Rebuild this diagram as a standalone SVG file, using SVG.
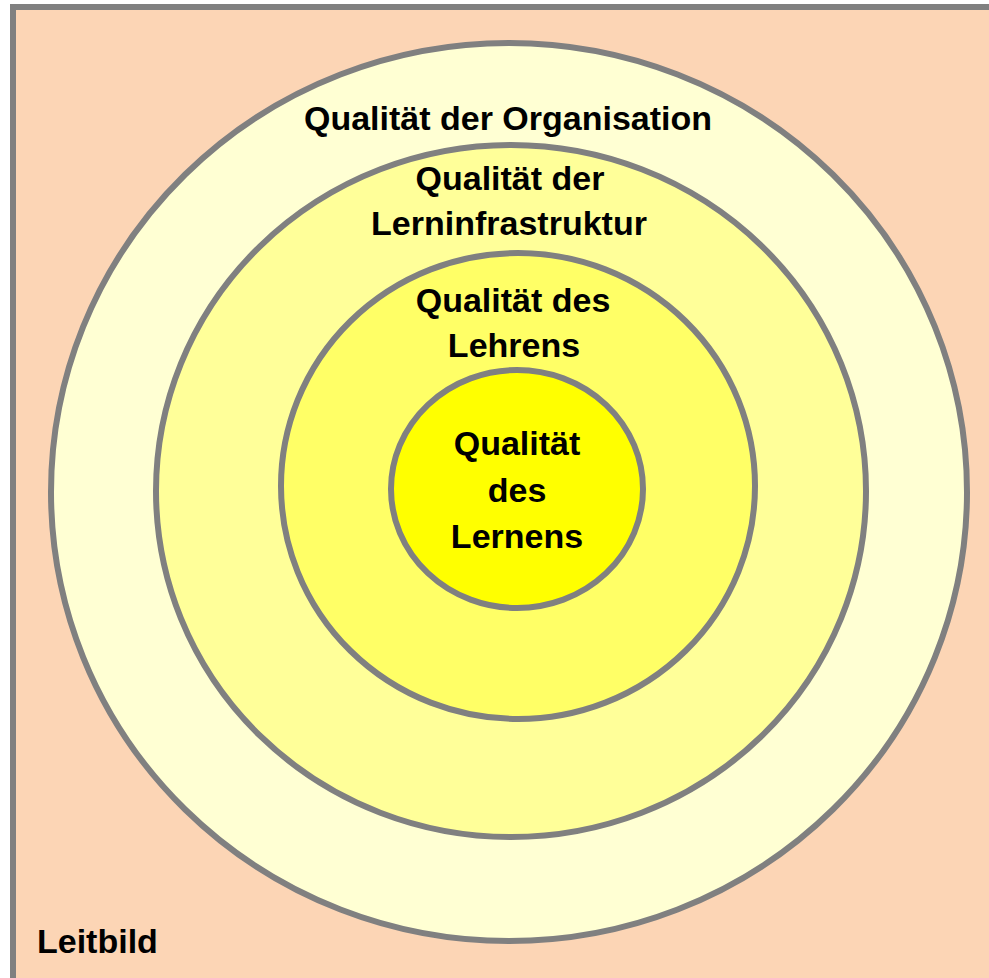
<svg xmlns="http://www.w3.org/2000/svg" width="989" height="978" viewBox="0 0 989 978">
  <style>
    .ring { stroke: #808080; stroke-width: 6; }
    .lbl { font-family: "Liberation Sans", Arial, sans-serif; font-weight: bold; font-size: 34px; fill: #000000; text-anchor: middle; }
    .lbl-left { text-anchor: start; }
  </style>
  <rect x="0" y="0" width="989" height="978" fill="#FFFFFF"/>
  <g id="leitbild">
    <rect x="13" y="7" width="1000" height="1000" fill="#FCD5B5" stroke="#808080" stroke-width="6"/>
    <text class="lbl lbl-left" x="37" y="953">Leitbild</text>
  </g>
  <g id="organisation">
    <ellipse class="ring" cx="509" cy="492" rx="458" ry="449" fill="#FFFFD3"/>
    <text class="lbl" x="508" y="130">Qualität der Organisation</text>
  </g>
  <g id="lerninfrastruktur">
    <ellipse class="ring" cx="511" cy="491" rx="355" ry="346" fill="#FFFF99"/>
    <text class="lbl" x="510" y="190">Qualität der</text>
    <text class="lbl" x="509" y="235">Lerninfrastruktur</text>
  </g>
  <g id="lehren">
    <ellipse class="ring" cx="518" cy="486" rx="237" ry="233" fill="#FFFF66"/>
    <text class="lbl" x="513" y="312">Qualität des</text>
    <text class="lbl" x="514" y="357">Lehrens</text>
  </g>
  <g id="lernen">
    <ellipse class="ring" cx="517" cy="489" rx="126" ry="119" fill="#FFFF00"/>
    <text class="lbl" x="517" y="455">Qualität</text>
    <text class="lbl" x="517" y="502">des</text>
    <text class="lbl" x="517" y="548">Lernens</text>
  </g>
</svg>
